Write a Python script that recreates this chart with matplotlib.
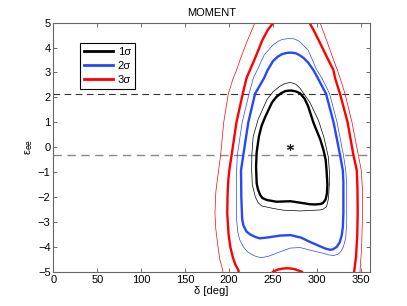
import matplotlib
matplotlib.use("Agg")
import matplotlib.pyplot as plt

plt.rcParams['font.family'] = ['Liberation Sans', 'DejaVu Sans']

BLUE = '#2846ff'
RED = '#ff0000'

# contour traces: (delta [deg], eps_ee)
sig1_thick = [(270, 2.28), (276, 2.24), (281, 2.16), (286, 1.95), (290, 1.65), (296, 1.0),
              (298, 0.82), (304, 0.3), (307.5, -0.11), (310, -0.5), (311, -0.9), (312, -1.5),
              (311.5, -1.85), (310, -2.1), (307, -2.24), (304, -2.28), (298, -2.3),
              (292, -2.29), (285, -2.25), (270, -2.17), (254, -2.19), (243, -2.12),
              (238, -2.04), (235.5, -1.92), (233, -1.7), (231.5, -1.45), (230.8, -0.78),
              (231.5, -0.2), (234, 0.42), (237, 0.85), (241, 1.2), (249, 1.8), (254, 2.02),
              (259, 2.16), (264, 2.25), (270, 2.28)]
sig1_thin = [(270, 2.6), (276, 2.53), (281, 2.36), (292, 1.8), (301.7, 1.09), (308, 0.4),
             (313, -0.38), (314.2, -0.92), (314.2, -1.5), (313.5, -1.9), (313, -2.1),
             (311, -2.39), (307, -2.49), (303.6, -2.52), (281, -2.56), (262, -2.53),
             (250.5, -2.46), (237.2, -2.36), (233, -2.22), (230, -2.0), (226.5, -1.5),
             (225.8, -0.92), (226, -0.3), (227.5, 0.42), (233, 1.1), (243, 1.9),
             (250, 2.22), (258, 2.45), (264, 2.56), (270, 2.6)]
sig2_thick = [(270, 3.8), (276, 3.77), (280, 3.7), (285, 3.58), (290, 3.4), (296, 3.1),
              (301, 2.78), (310.5, 2.14), (319, 1.0), (326.4, -0.31), (329.5, -0.92),
              (330.2, -1.4), (330.2, -2.65), (329.6, -3.2), (328.4, -3.53), (326, -3.82),
              (322.7, -4.0), (318.5, -4.1), (315, -4.12), (309, -4.06), (303, -3.97),
              (292, -3.8), (282, -3.63), (270, -3.53), (258, -3.55), (245, -3.62),
              (235, -3.66), (229.6, -3.6), (224, -3.5), (220, -3.39), (216.5, -3.15),
              (215, -2.9), (214, -2.0), (213.7, -0.92), (216.3, -0.31), (222, 1.0),
              (229.6, 2.14), (240, 2.78), (244, 3.1), (250, 3.45), (255, 3.62),
              (260, 3.73), (265, 3.78), (270, 3.8)]
sig2_thin = [(269, 4.37), (275, 4.34), (280, 4.25), (290, 3.9), (299.9, 3.1), (305.6, 2.78),
             (314.6, 2.14), (323, 1.0), (330.2, -0.31), (332.9, -0.92), (334, -1.5),
             (334, -3.05), (332.8, -3.65), (330.2, -4.0), (327, -4.2), (324, -4.3),
             (318.8, -4.35), (313, -4.32), (307.4, -4.26), (292, -4.13), (281, -4.03),
             (270, -4.05), (258, -4.2), (245, -4.38), (236, -4.44), (228, -4.35),
             (221, -4.2), (216.3, -4.0), (212, -3.7), (210, -3.4), (208.7, -2.92),
             (208.7, -0.92), (209.5, -0.31), (215, 1.0), (222.8, 2.14), (227.7, 2.78),
             (232.2, 3.1), (240, 3.7), (250, 4.1), (255, 4.23), (260, 4.32), (269, 4.37)]
sig3_thick = [(211.5, -5.1), (210.6, -4.93), (207, -4.7), (204.2, -4.4), (201.5, -4.0),
              (199.5, -3.5), (198, -2.65), (198.4, -1.9), (199.2, -1.32), (200.4, -0.92),
              (203, -0.31), (208.5, 1.0), (215.6, 2.14), (220, 2.78), (223.9, 3.1),
              (228.8, 3.5), (238, 4.3), (244, 4.7), (250.5, 5.0), (252, 5.1)]
sig3_thick_r = [(290, 5.1), (291.5, 5.0), (296, 4.72), (302, 4.3), (313.1, 3.5),
                (318.8, 3.1), (320.7, 2.78), (326.4, 2.14), (335, 1.0), (341.6, -0.31),
                (345.4, -0.92), (346.2, -1.6), (346.5, -2.6), (346, -3.5), (344.6, -4.4),
                (342.4, -5.0), (342.2, -5.1)]
sig3_arc = [(248, -5.1), (250, -5.0), (255, -4.92), (260, -4.88), (265, -4.86),
            (270, -4.87), (275, -4.9), (283, -5.0), (285, -5.1)]
sig3_thin = [(193.2, -5.1), (192.8, -4.93), (189.5, -4.5), (187.5, -4.0), (185, -3.3),
             (184, -2.65), (185, -1.8), (186.7, -1.32), (190.5, -0.31), (194, 1.0),
             (199.2, 2.14), (204.9, 2.78), (208.7, 3.1), (212.5, 3.5), (220, 4.2),
             (229.6, 5.0), (231, 5.1)]
sig3_thin_r = [(302, 5.1), (303.6, 5.0), (312, 4.2), (318, 3.6), (323.3, 3.1),
               (326.4, 2.78), (332.1, 2.14), (340, 1.0), (347.2, -0.31), (350.5, -0.92),
               (351.8, -1.6), (351.8, -2.92), (351, -4.0), (349.2, -4.93), (349, -5.1)]

best_fit = (270, 0.0)
dash_hi = 2.14
dash_lo = -0.31

xticks = [0, 50, 100, 150, 200, 250, 300, 350]
yticks = [-5, -4, -3, -2, -1, 0, 1, 2, 3, 4, 5]


def draw(ax, pts, color, lw, label=None):
    xs = [p[0] for p in pts]
    ys = [p[1] for p in pts]
    ax.plot(xs, ys, color=color, lw=lw, label=label, solid_joinstyle='round',
            solid_capstyle='butt')


fig = plt.figure(figsize=(4.07, 3.06), dpi=100)
ax = fig.add_axes([0.131, 0.112, 0.777, 0.814])

ax.axhline(dash_hi, color='#333333', lw=0.8, ls=(0, (6, 4)))
ax.axhline(dash_lo, color='#888888', lw=1.0, ls=(0, (6, 4)))

thin = 0.5
thick = 1.7
draw(ax, sig3_thin, RED, thin)
draw(ax, sig3_thin_r, RED, thin)
draw(ax, sig3_thick, RED, thick)
draw(ax, sig3_thick_r, RED, thick)
draw(ax, sig3_arc, RED, thick)
draw(ax, sig2_thin, BLUE, thin)
draw(ax, sig2_thick, BLUE, thick)
draw(ax, sig1_thin, 'black', thin)
draw(ax, sig1_thick, 'black', thick)

# MATLAB-style asterisk marker
ax.plot([best_fit[0]], [best_fit[1]], marker=(6, 2, 0), color='#222222', ms=5,
        mew=0.8, ls='none')

# legend handles
h1, = ax.plot([], [], color='black', lw=2.0, label='1σ')
h2, = ax.plot([], [], color=BLUE, lw=2.0, label='2σ')
h3, = ax.plot([], [], color=RED, lw=2.0, label='3σ')
leg = ax.legend(handles=[h1, h2, h3], loc='upper left', bbox_to_anchor=(0.084, 0.92),
                borderaxespad=0, fancybox=False, framealpha=1, edgecolor='black',
                fontsize=8, handlelength=2.6, handletextpad=0.4, labelspacing=0.35,
                borderpad=0.4)
leg.get_frame().set_linewidth(0.8)

ax.set_xlim(0, 360)
ax.set_ylim(-5, 5)
ax.set_xticks(xticks)
ax.set_yticks(yticks)
ax.set_yticklabels([str(t).replace('-', '\u2212') for t in yticks])
ax.tick_params(direction='in', top=True, right=True, labelsize=8, length=3,
               width=0.6, color='#555555', pad=2)
for s in ax.spines.values():
    s.set_color('#666666')
    s.set_linewidth(0.8)

ax.set_title('MOMENT', fontsize=8, pad=5)
ax.set_xlabel('δ [deg]', fontsize=8, labelpad=1)
ax.set_ylabel('ε$_{\\rm ee}$', fontsize=8, labelpad=2)

fig.savefig('out.png', dpi=100)
